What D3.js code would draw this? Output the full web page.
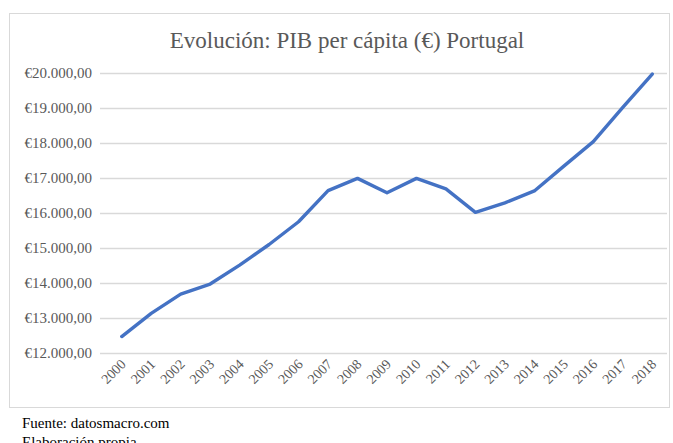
<!DOCTYPE html>
<html><head><meta charset="utf-8">
<script src="https://cdn.jsdelivr.net/npm/d3@7"></script>
<style>
html,body{margin:0;padding:0;background:#fff;}
svg{display:block;font-family:"Liberation Serif","Times New Roman",serif;}
</style></head>
<body><svg id="c" width="673" height="443"></svg>
<script>
const years = ["2000","2001","2002","2003","2004","2005","2006","2007","2008","2009","2010","2011","2012","2013","2014","2015","2016","2017","2018"];
const gdp = [12470,13130,13680,13970,14510,15100,15750,16640,16990,16580,16990,16690,16020,16290,16630,17340,18040,19020,19970];
const yTicks = [12000,13000,14000,15000,16000,17000,18000,19000,20000];
const title = "Evolución: PIB per cápita (€) Portugal";
const notes = ["Fuente: datosmacro.com","Elaboración propia"];

const svg = d3.select("#c");
const m = {left:107, right:667, top:73, bottom:353};

svg.append("rect").attr("x",9.5).attr("y",13.5).attr("width",660).attr("height",394)
  .attr("fill","#fff").attr("stroke","#d9d9d9").attr("stroke-width",1);

svg.append("text").attr("x",347).attr("y",48).attr("text-anchor","middle")
  .attr("font-family","Liberation Serif").attr("font-size",23).attr("fill","#595959").text(title);

const x = d3.scaleBand().domain(years).range([m.left,m.right]);
const y = d3.scaleLinear().domain([12000,20000]).range([m.bottom,m.top]);

const fmt = v => "€" + d3.format(",.2f")(v).replace(/,/g,"#").replace(".",",").replace(/#/g,".");

const ya = svg.append("g").attr("transform",`translate(${m.left-7},0)`)
  .call(d3.axisLeft(y).tickValues(yTicks).tickFormat(fmt).tickSize(-(m.right-m.left+7)).tickPadding(8));
ya.select(".domain").remove();
ya.selectAll(".tick line").attr("stroke","#d9d9d9").attr("stroke-width",1.3);
ya.selectAll(".tick text").attr("font-family","Liberation Serif").attr("font-size",15).attr("fill","#595959");

const xa = svg.append("g").attr("transform",`translate(0,${m.bottom})`)
  .call(d3.axisBottom(x).tickSize(0).tickPadding(0));
xa.select(".domain").remove();
xa.selectAll(".tick text").attr("font-family","Liberation Serif").attr("font-size",14).attr("fill","#595959")
  .attr("text-anchor","end").attr("dy",0).attr("transform","translate(5,12) rotate(-45)");

const line = d3.line().x((d,i)=>x(years[i])+x.bandwidth()/2).y(d=>y(d));
svg.append("path").datum(gdp).attr("d",line).attr("fill","none")
  .attr("stroke","#4472c4").attr("stroke-width",3.4).attr("stroke-linejoin","round").attr("stroke-linecap","round");

svg.selectAll(".note").data(notes).enter().append("text").attr("class","note")
  .attr("x",22).attr("y",(d,i)=>428+i*19).attr("font-family","Liberation Serif").attr("font-size",15).attr("fill","#000").text(d=>d);
</script></body></html>
